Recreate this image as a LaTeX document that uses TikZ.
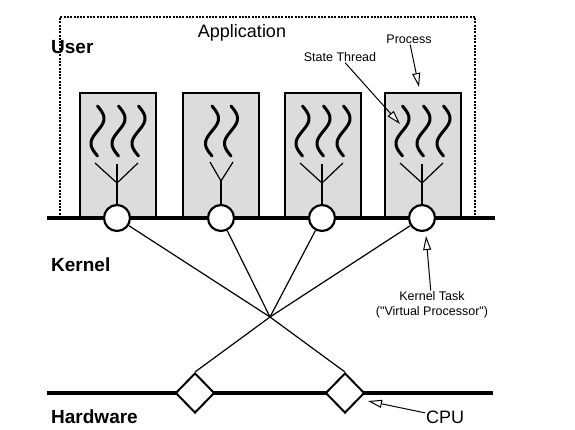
\documentclass[tikz,border=0pt]{standalone}
\usepackage{fontspec}
\setmainfont{Liberation Sans}
\usetikzlibrary{shapes.geometric,arrows.meta}
\definecolor{boxgray}{RGB}{220,220,220}
\tikzset{
  procbox/.style={draw=black,line width=2pt,fill=boxgray,minimum width=76pt,minimum height=125pt,inner sep=0pt},
  ktask/.style={circle,draw=black,line width=2.2pt,fill=white,minimum size=26pt,inner sep=0pt},
  cpubox/.style={diamond,draw=black,line width=2pt,fill=white,minimum width=39pt,minimum height=40pt,inner sep=0pt},
  layerline/.style={line width=4pt},
  threadline/.style={line width=3pt,line cap=round},
  forkline/.style={line width=1.2pt},
  link/.style={line width=1.2pt},
  pointer/.style={line width=1pt,-{Triangle[fill=white,length=14pt,width=8pt,line width=1pt]}},
  bigbold/.style={font=\fontsize{19}{21}\selectfont\bfseries,inner sep=0pt,anchor=west},
  small/.style={font=\fontsize{12.5}{15}\selectfont,inner sep=1pt,align=center},
}
\begin{document}
\begin{tikzpicture}[x=1pt,y=-1pt]
\useasboundingbox (0,0) rectangle (575,429);
% application dotted box
\draw[line width=2.6pt,dash pattern=on 2pt off 1.3pt] (60,218) -- (60,17) -- (475,17) -- (475,218);
% process boxes
\node[procbox] (b1) at (117.5,155.5) {};
\node[procbox] (b2) at (221,155.5) {};
\node[procbox] (b3) at (322.5,155.5) {};
\node[procbox] (b4) at (422.5,155.5) {};
% kernel line
\coordinate (kl) at (47,218);
\coordinate (kr) at (495,218);
\draw[layerline] (kl) -- (kr);
% threads
\foreach \c in {97.5,118.5,138.5, 302.5,323.5,343.5, 402.5,423.5,443.5, 212,231}{
  \draw[threadline] plot[domain=0:50,samples=40,smooth] ({\c+6.5*sin(7.2*\x)},{106+\x});
}
% circles (kernel tasks)
\node[ktask] (c1) at (117,218) {};
\node[ktask] (c2) at (221,218) {};
\node[ktask] (c3) at (322,218) {};
\node[ktask] (c4) at (422,218) {};
% forks
\foreach \n/\cx in {1/117,3/322,4/422}{
  \coordinate (j\n) at (\cx,183);
  \draw[forkline] (\cx-22,163) -- (j\n) -- (\cx+21,163);
  \draw[forkline] (\cx,164) -- (c\n);
}
\coordinate (j2) at (221,181);
\draw[forkline] (210,162) -- (j2) -- (233,162);
\draw[forkline] (j2) -- (c2);
% hardware line and CPUs
\coordinate (hl) at (47,393);
\coordinate (hr) at (493,393);
\draw[layerline] (hl) -- (hr);
\node[cpubox] (d1) at (195,393) {};
\node[cpubox] (d2) at (345,393) {};
% links
\coordinate (X) at (270,317);
\foreach \n in {1,2,3,4}{ \draw[link] (c\n) -- (X); }
\draw[link] (X) -- (d1.north);
\draw[link] (X) -- (d2.north);
% labels
\node[bigbold] (user) at (51,47) {User};
\node[bigbold] (kern) at (51,265) {Kernel};
\node[bigbold] (hw) at (51,417) {Hardware};
\node[font=\fontsize{18}{20}\selectfont,inner sep=0pt] (app) at (242,33) {Application};
\node[small] (proc) at (409,39) {Process};
\node[small] (st) at (340,57) {State Thread};
\node[small] (kt) at (432,305) {Kernel Task\\(\textquotedbl Virtual Processor\textquotedbl)};
\node[font=\fontsize{18}{20}\selectfont,inner sep=1pt] (cpu) at (445,417) {CPU};
% pointers
\coordinate (ptip) at (419,87);
\coordinate (sttip) at (400,124);
\coordinate (kttip) at (426,236);
\coordinate (cputip) at (368,401);
\draw[pointer] (proc) -- (ptip);
\draw[pointer] (st) -- (sttip);
\draw[pointer] (kt) -- (kttip);
\draw[pointer] (cpu) -- (cputip);
\end{tikzpicture}
\end{document}
